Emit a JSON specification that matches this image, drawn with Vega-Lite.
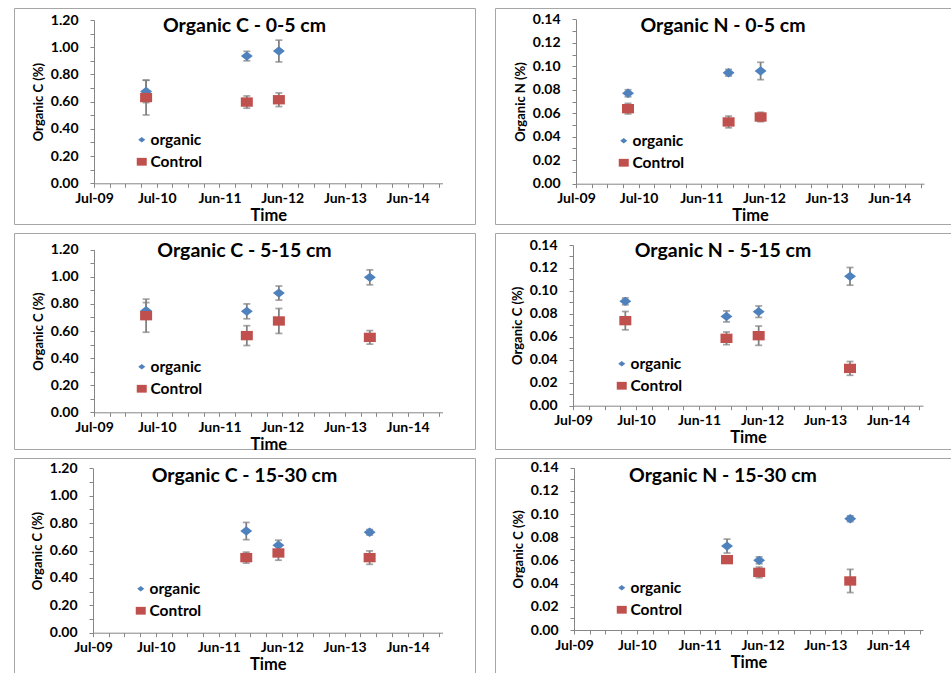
{
  "$schema": "https://vega.github.io/schema/vega-lite/v6.json",
  "padding": {"left": 13, "top": 7, "right": 0, "bottom": 0},
  "background": "#ffffff",
  "bounds": "flush",
  "columns": 2,
  "spacing": {"row": 9, "column": 20},
  "resolve": {"scale": {"x": "independent", "y": "independent", "color": "independent", "shape": "independent"}},
  "data": {
    "values": [
      {"panel": "C1", "series": "organic", "date": "2010-05-01", "value": 0.675, "err": 0.082},
      {"panel": "C1", "series": "organic", "date": "2011-11-30", "value": 0.935, "err": 0.035},
      {"panel": "C1", "series": "organic", "date": "2012-06-01", "value": 0.972, "err": 0.08},
      {"panel": "C1", "series": "Control", "date": "2010-05-01", "value": 0.63, "err": 0.128},
      {"panel": "C1", "series": "Control", "date": "2011-11-30", "value": 0.597, "err": 0.045},
      {"panel": "C1", "series": "Control", "date": "2012-06-01", "value": 0.614, "err": 0.05},

      {"panel": "N1", "series": "organic", "date": "2010-05-01", "value": 0.077, "err": 0.003},
      {"panel": "N1", "series": "organic", "date": "2011-11-30", "value": 0.0945, "err": 0.0028},
      {"panel": "N1", "series": "organic", "date": "2012-06-01", "value": 0.096, "err": 0.0074},
      {"panel": "N1", "series": "Control", "date": "2010-05-01", "value": 0.0639, "err": 0.0045},
      {"panel": "N1", "series": "Control", "date": "2011-11-30", "value": 0.0526, "err": 0.005},
      {"panel": "N1", "series": "Control", "date": "2012-06-01", "value": 0.0568, "err": 0.004},

      {"panel": "C2", "series": "organic", "date": "2010-05-01", "value": 0.75, "err": 0.06},
      {"panel": "C2", "series": "organic", "date": "2011-11-30", "value": 0.745, "err": 0.055},
      {"panel": "C2", "series": "organic", "date": "2012-06-01", "value": 0.88, "err": 0.052},
      {"panel": "C2", "series": "organic", "date": "2013-11-05", "value": 0.996, "err": 0.055},
      {"panel": "C2", "series": "Control", "date": "2010-05-01", "value": 0.713, "err": 0.122},
      {"panel": "C2", "series": "Control", "date": "2011-11-30", "value": 0.566, "err": 0.073},
      {"panel": "C2", "series": "Control", "date": "2012-06-01", "value": 0.674, "err": 0.092},
      {"panel": "C2", "series": "Control", "date": "2013-11-05", "value": 0.553, "err": 0.05},

      {"panel": "N2", "series": "organic", "date": "2010-05-01", "value": 0.0909, "err": 0.003},
      {"panel": "N2", "series": "organic", "date": "2011-11-30", "value": 0.0778, "err": 0.0048},
      {"panel": "N2", "series": "organic", "date": "2012-06-01", "value": 0.0819, "err": 0.005},
      {"panel": "N2", "series": "organic", "date": "2013-11-05", "value": 0.1127, "err": 0.0077},
      {"panel": "N2", "series": "Control", "date": "2010-05-01", "value": 0.0741, "err": 0.008},
      {"panel": "N2", "series": "Control", "date": "2011-11-30", "value": 0.0587, "err": 0.0055},
      {"panel": "N2", "series": "Control", "date": "2012-06-01", "value": 0.061, "err": 0.0084},
      {"panel": "N2", "series": "Control", "date": "2013-11-05", "value": 0.0325, "err": 0.006},

      {"panel": "C3", "series": "organic", "date": "2011-11-30", "value": 0.742, "err": 0.063},
      {"panel": "C3", "series": "organic", "date": "2012-06-01", "value": 0.638, "err": 0.037},
      {"panel": "C3", "series": "organic", "date": "2013-11-05", "value": 0.733, "err": 0.02},
      {"panel": "C3", "series": "Control", "date": "2011-11-30", "value": 0.548, "err": 0.04},
      {"panel": "C3", "series": "Control", "date": "2012-06-01", "value": 0.582, "err": 0.053},
      {"panel": "C3", "series": "Control", "date": "2013-11-05", "value": 0.548, "err": 0.049},

      {"panel": "N3", "series": "organic", "date": "2011-11-30", "value": 0.0724, "err": 0.006},
      {"panel": "N3", "series": "organic", "date": "2012-06-01", "value": 0.0601, "err": 0.003},
      {"panel": "N3", "series": "organic", "date": "2013-11-05", "value": 0.096, "err": 0.0025},
      {"panel": "N3", "series": "Control", "date": "2011-11-30", "value": 0.0607, "err": 0.002},
      {"panel": "N3", "series": "Control", "date": "2012-06-01", "value": 0.0497, "err": 0.0046},
      {"panel": "N3", "series": "Control", "date": "2013-11-05", "value": 0.0423, "err": 0.01}
    ]
  },
  "concat": [
    {
      "width": 461, "height": 216,
      "title": {"text": "Organic C - 0-5 cm"},
      "transform": [{"filter": "datum.panel == 'C1'"}],
      "encoding": {
        "x": {"field": "date", "type": "temporal", "title": "Time",
          "scale": {"type": "utc", "domain": [1246838400000, 1419638400000], "range": [80, 428.5]},
          "axis": {"offset": -40.7, "values": [1246838400000, 1254614400000, 1262390400000, 1270166400000, 1277942400000, 1285718400000, 1293494400000, 1301270400000, 1309046400000, 1316822400000, 1324598400000, 1332374400000, 1340150400000, 1347926400000, 1355702400000, 1363478400000, 1371254400000, 1379030400000, 1386806400000, 1394582400000, 1402358400000, 1410134400000, 1417910400000],
            "labelExpr": "(datum.value - 1246838400000) % 31104000000 == 0 ? utcFormat(datum.value, '%b-%y') : ''"}},
        "y": {"field": "value", "type": "quantitative", "title": "Organic C (%)",
          "scale": {"domain": [0, 1.2], "nice": false, "range": [175.3, 12]},
          "axis": {"offset": -80, "values": [0, 0.1, 0.2, 0.3, 0.4, 0.5, 0.6, 0.7, 0.8, 0.9, 1.0, 1.1, 1.2],
            "labelExpr": "round(datum.value * 10) % 2 == 0 ? format(datum.value, '.2f') : ''"}}
      },
      "layer": [
        {"mark": {"type": "errorbar", "ticks": true, "size": 7, "thickness": 1.75, "color": "#7f7f7f"}, "encoding": {"yError": {"field": "err"}}},
        {"transform": [{"filter": "datum.series == 'organic'"}], "mark": {"type": "point", "filled": true, "opacity": 1, "size": 290, "strokeWidth": 0},
          "encoding": {
            "color": {"field": "series", "type": "nominal", "scale": {"domain": ["organic", "Control"], "range": ["#4F81BD", "#C0504D"]}, "legend": {"orient": "none", "legendX": 120, "legendY": 124, "title": null}},
            "shape": {"field": "series", "type": "nominal", "scale": {"domain": ["organic", "Control"], "range": ["M0,-0.55L0.7,0L0,0.55L-0.7,0Z", "M-1,-0.78H1V0.78H-1Z"]}, "legend": {"orient": "none", "legendX": 120, "legendY": 124, "title": null}}}},
        {"transform": [{"filter": "datum.series == 'Control'"}], "mark": {"type": "point", "filled": true, "opacity": 1, "size": 144, "strokeWidth": 0},
          "encoding": {
            "color": {"field": "series", "type": "nominal"},
            "shape": {"field": "series", "type": "nominal"}}}
      ]
    },
    {
      "width": 456, "height": 216,
      "title": {"text": "Organic N - 0-5 cm"},
      "transform": [{"filter": "datum.panel == 'N1'"}],
      "encoding": {
        "x": {"field": "date", "type": "temporal", "title": "Time",
          "scale": {"type": "utc", "domain": [1246838400000, 1419638400000], "range": [81, 429]},
          "axis": {"offset": -40.3, "values": [1246838400000, 1254614400000, 1262390400000, 1270166400000, 1277942400000, 1285718400000, 1293494400000, 1301270400000, 1309046400000, 1316822400000, 1324598400000, 1332374400000, 1340150400000, 1347926400000, 1355702400000, 1363478400000, 1371254400000, 1379030400000, 1386806400000, 1394582400000, 1402358400000, 1410134400000, 1417910400000],
            "labelExpr": "(datum.value - 1246838400000) % 31104000000 == 0 ? utcFormat(datum.value, '%b-%y') : ''"}},
        "y": {"field": "value", "type": "quantitative", "title": "Organic N (%)",
          "scale": {"domain": [0, 0.14], "nice": false, "range": [175.7, 11.3]},
          "axis": {"offset": -81, "values": [0, 0.01, 0.02, 0.03, 0.04, 0.05, 0.06, 0.07, 0.08, 0.09, 0.1, 0.11, 0.12, 0.13, 0.14],
            "labelExpr": "round(datum.value * 100) % 2 == 0 ? format(datum.value, '.2f') : ''"}}
      },
      "layer": [
        {"mark": {"type": "errorbar", "ticks": true, "size": 7, "thickness": 1.75, "color": "#7f7f7f"}, "encoding": {"yError": {"field": "err"}}},
        {"transform": [{"filter": "datum.series == 'organic'"}], "mark": {"type": "point", "filled": true, "opacity": 1, "size": 290, "strokeWidth": 0},
          "encoding": {
            "color": {"field": "series", "type": "nominal", "scale": {"domain": ["organic", "Control"], "range": ["#4F81BD", "#C0504D"]}, "legend": {"orient": "none", "legendX": 121, "legendY": 125, "title": null}},
            "shape": {"field": "series", "type": "nominal", "scale": {"domain": ["organic", "Control"], "range": ["M0,-0.55L0.7,0L0,0.55L-0.7,0Z", "M-1,-0.78H1V0.78H-1Z"]}, "legend": {"orient": "none", "legendX": 121, "legendY": 125, "title": null}}}},
        {"transform": [{"filter": "datum.series == 'Control'"}], "mark": {"type": "point", "filled": true, "opacity": 1, "size": 144, "strokeWidth": 0},
          "encoding": {
            "color": {"field": "series", "type": "nominal"},
            "shape": {"field": "series", "type": "nominal"}}}
      ]
    },
    {
      "width": 461, "height": 216,
      "title": {"text": "Organic C - 5-15 cm"},
      "transform": [{"filter": "datum.panel == 'C2'"}],
      "encoding": {
        "x": {"field": "date", "type": "temporal", "title": "Time",
          "scale": {"type": "utc", "domain": [1246838400000, 1419638400000], "range": [80, 428.5]},
          "axis": {"offset": -36.7, "values": [1246838400000, 1254614400000, 1262390400000, 1270166400000, 1277942400000, 1285718400000, 1293494400000, 1301270400000, 1309046400000, 1316822400000, 1324598400000, 1332374400000, 1340150400000, 1347926400000, 1355702400000, 1363478400000, 1371254400000, 1379030400000, 1386806400000, 1394582400000, 1402358400000, 1410134400000, 1417910400000],
            "labelExpr": "(datum.value - 1246838400000) % 31104000000 == 0 ? utcFormat(datum.value, '%b-%y') : ''"}},
        "y": {"field": "value", "type": "quantitative", "title": "Organic C (%)",
          "scale": {"domain": [0, 1.2], "nice": false, "range": [179.3, 16.7]},
          "axis": {"offset": -80, "values": [0, 0.1, 0.2, 0.3, 0.4, 0.5, 0.6, 0.7, 0.8, 0.9, 1.0, 1.1, 1.2],
            "labelExpr": "round(datum.value * 10) % 2 == 0 ? format(datum.value, '.2f') : ''"}}
      },
      "layer": [
        {"mark": {"type": "errorbar", "ticks": true, "size": 7, "thickness": 1.75, "color": "#7f7f7f"}, "encoding": {"yError": {"field": "err"}}},
        {"transform": [{"filter": "datum.series == 'organic'"}], "mark": {"type": "point", "filled": true, "opacity": 1, "size": 290, "strokeWidth": 0},
          "encoding": {
            "color": {"field": "series", "type": "nominal", "scale": {"domain": ["organic", "Control"], "range": ["#4F81BD", "#C0504D"]}, "legend": {"orient": "none", "legendX": 120, "legendY": 126, "title": null}},
            "shape": {"field": "series", "type": "nominal", "scale": {"domain": ["organic", "Control"], "range": ["M0,-0.55L0.7,0L0,0.55L-0.7,0Z", "M-1,-0.78H1V0.78H-1Z"]}, "legend": {"orient": "none", "legendX": 120, "legendY": 126, "title": null}}}},
        {"transform": [{"filter": "datum.series == 'Control'"}], "mark": {"type": "point", "filled": true, "opacity": 1, "size": 144, "strokeWidth": 0},
          "encoding": {
            "color": {"field": "series", "type": "nominal"},
            "shape": {"field": "series", "type": "nominal"}}}
      ]
    },
    {
      "width": 456, "height": 216,
      "title": {"text": "Organic N - 5-15 cm"},
      "transform": [{"filter": "datum.panel == 'N2'"}],
      "encoding": {
        "x": {"field": "date", "type": "temporal", "title": "Time",
          "scale": {"type": "utc", "domain": [1246838400000, 1419638400000], "range": [78, 428]},
          "axis": {"offset": -43.3, "values": [1246838400000, 1254614400000, 1262390400000, 1270166400000, 1277942400000, 1285718400000, 1293494400000, 1301270400000, 1309046400000, 1316822400000, 1324598400000, 1332374400000, 1340150400000, 1347926400000, 1355702400000, 1363478400000, 1371254400000, 1379030400000, 1386806400000, 1394582400000, 1402358400000, 1410134400000, 1417910400000],
            "labelExpr": "(datum.value - 1246838400000) % 31104000000 == 0 ? utcFormat(datum.value, '%b-%y') : ''"}},
        "y": {"field": "value", "type": "quantitative", "title": "Organic C (%)",
          "scale": {"domain": [0, 0.14], "nice": false, "range": [172.7, 12]},
          "axis": {"offset": -78, "values": [0, 0.01, 0.02, 0.03, 0.04, 0.05, 0.06, 0.07, 0.08, 0.09, 0.1, 0.11, 0.12, 0.13, 0.14],
            "labelExpr": "round(datum.value * 100) % 2 == 0 ? format(datum.value, '.2f') : ''"}}
      },
      "layer": [
        {"mark": {"type": "errorbar", "ticks": true, "size": 7, "thickness": 1.75, "color": "#7f7f7f"}, "encoding": {"yError": {"field": "err"}}},
        {"transform": [{"filter": "datum.series == 'organic'"}], "mark": {"type": "point", "filled": true, "opacity": 1, "size": 290, "strokeWidth": 0},
          "encoding": {
            "color": {"field": "series", "type": "nominal", "scale": {"domain": ["organic", "Control"], "range": ["#4F81BD", "#C0504D"]}, "legend": {"orient": "none", "legendX": 119, "legendY": 123, "title": null}},
            "shape": {"field": "series", "type": "nominal", "scale": {"domain": ["organic", "Control"], "range": ["M0,-0.55L0.7,0L0,0.55L-0.7,0Z", "M-1,-0.78H1V0.78H-1Z"]}, "legend": {"orient": "none", "legendX": 119, "legendY": 123, "title": null}}}},
        {"transform": [{"filter": "datum.series == 'Control'"}], "mark": {"type": "point", "filled": true, "opacity": 1, "size": 144, "strokeWidth": 0},
          "encoding": {
            "color": {"field": "series", "type": "nominal"},
            "shape": {"field": "series", "type": "nominal"}}}
      ]
    },
    {
      "width": 461, "height": 216,
      "title": {"text": "Organic C - 15-30 cm"},
      "transform": [{"filter": "datum.panel == 'C3'"}],
      "encoding": {
        "x": {"field": "date", "type": "temporal", "title": "Time",
          "scale": {"type": "utc", "domain": [1246838400000, 1419638400000], "range": [79, 428.5]},
          "axis": {"offset": -41.3, "values": [1246838400000, 1254614400000, 1262390400000, 1270166400000, 1277942400000, 1285718400000, 1293494400000, 1301270400000, 1309046400000, 1316822400000, 1324598400000, 1332374400000, 1340150400000, 1347926400000, 1355702400000, 1363478400000, 1371254400000, 1379030400000, 1386806400000, 1394582400000, 1402358400000, 1410134400000, 1417910400000],
            "labelExpr": "(datum.value - 1246838400000) % 31104000000 == 0 ? utcFormat(datum.value, '%b-%y') : ''"}},
        "y": {"field": "value", "type": "quantitative", "title": "Organic C (%)",
          "scale": {"domain": [0, 1.2], "nice": false, "range": [174.7, 10.3]},
          "axis": {"offset": -79, "values": [0, 0.1, 0.2, 0.3, 0.4, 0.5, 0.6, 0.7, 0.8, 0.9, 1.0, 1.1, 1.2],
            "labelExpr": "round(datum.value * 10) % 2 == 0 ? format(datum.value, '.2f') : ''"}}
      },
      "layer": [
        {"mark": {"type": "errorbar", "ticks": true, "size": 7, "thickness": 1.75, "color": "#7f7f7f"}, "encoding": {"yError": {"field": "err"}}},
        {"transform": [{"filter": "datum.series == 'organic'"}], "mark": {"type": "point", "filled": true, "opacity": 1, "size": 290, "strokeWidth": 0},
          "encoding": {
            "color": {"field": "series", "type": "nominal", "scale": {"domain": ["organic", "Control"], "range": ["#4F81BD", "#C0504D"]}, "legend": {"orient": "none", "legendX": 119, "legendY": 123, "title": null}},
            "shape": {"field": "series", "type": "nominal", "scale": {"domain": ["organic", "Control"], "range": ["M0,-0.55L0.7,0L0,0.55L-0.7,0Z", "M-1,-0.78H1V0.78H-1Z"]}, "legend": {"orient": "none", "legendX": 119, "legendY": 123, "title": null}}}},
        {"transform": [{"filter": "datum.series == 'Control'"}], "mark": {"type": "point", "filled": true, "opacity": 1, "size": 144, "strokeWidth": 0},
          "encoding": {
            "color": {"field": "series", "type": "nominal"},
            "shape": {"field": "series", "type": "nominal"}}}
      ]
    },
    {
      "width": 456, "height": 216,
      "title": {"text": "Organic N - 15-30 cm"},
      "transform": [{"filter": "datum.panel == 'N3'"}],
      "encoding": {
        "x": {"field": "date", "type": "temporal", "title": "Time",
          "scale": {"type": "utc", "domain": [1246838400000, 1419638400000], "range": [79, 428]},
          "axis": {"offset": -44, "values": [1246838400000, 1254614400000, 1262390400000, 1270166400000, 1277942400000, 1285718400000, 1293494400000, 1301270400000, 1309046400000, 1316822400000, 1324598400000, 1332374400000, 1340150400000, 1347926400000, 1355702400000, 1363478400000, 1371254400000, 1379030400000, 1386806400000, 1394582400000, 1402358400000, 1410134400000, 1417910400000],
            "labelExpr": "(datum.value - 1246838400000) % 31104000000 == 0 ? utcFormat(datum.value, '%b-%y') : ''"}},
        "y": {"field": "value", "type": "quantitative", "title": "Organic C (%)",
          "scale": {"domain": [0, 0.14], "nice": false, "range": [172, 9.7]},
          "axis": {"offset": -79, "values": [0, 0.01, 0.02, 0.03, 0.04, 0.05, 0.06, 0.07, 0.08, 0.09, 0.1, 0.11, 0.12, 0.13, 0.14],
            "labelExpr": "round(datum.value * 100) % 2 == 0 ? format(datum.value, '.2f') : ''"}}
      },
      "layer": [
        {"mark": {"type": "errorbar", "ticks": true, "size": 7, "thickness": 1.75, "color": "#7f7f7f"}, "encoding": {"yError": {"field": "err"}}},
        {"transform": [{"filter": "datum.series == 'organic'"}], "mark": {"type": "point", "filled": true, "opacity": 1, "size": 290, "strokeWidth": 0},
          "encoding": {
            "color": {"field": "series", "type": "nominal", "scale": {"domain": ["organic", "Control"], "range": ["#4F81BD", "#C0504D"]}, "legend": {"orient": "none", "legendX": 119, "legendY": 122, "title": null}},
            "shape": {"field": "series", "type": "nominal", "scale": {"domain": ["organic", "Control"], "range": ["M0,-0.55L0.7,0L0,0.55L-0.7,0Z", "M-1,-0.78H1V0.78H-1Z"]}, "legend": {"orient": "none", "legendX": 119, "legendY": 122, "title": null}}}},
        {"transform": [{"filter": "datum.series == 'Control'"}], "mark": {"type": "point", "filled": true, "opacity": 1, "size": 144, "strokeWidth": 0},
          "encoding": {
            "color": {"field": "series", "type": "nominal"},
            "shape": {"field": "series", "type": "nominal"}}}
      ]
    }
  ],
  "config": {
    "font": "Lato",
    "view": {"stroke": "#a6a6a6", "strokeWidth": 1},
    "title": {"font": "Lato", "fontSize": 19.5, "fontWeight": "bold", "color": "#000000", "anchor": "middle", "baseline": "alphabetic", "offset": -28},
    "axis": {
      "grid": false,
      "domainColor": "#868686", "domainWidth": 1,
      "tickColor": "#868686", "tickSize": 4, "tickWidth": 1,
      "labelFont": "Lato", "labelFontWeight": "bold", "labelFontSize": 14, "labelColor": "#000000",
      "labelOverlap": false, "labelFlush": false, "labelBound": false,
      "titleFont": "Lato", "titleFontWeight": "bold", "titleColor": "#000000"
    },
    "axisX": {"labelPadding": 4, "titleFontSize": 16.5, "titlePadding": 2},
    "axisY": {"labelPadding": 12, "titleFontSize": 13, "titlePadding": 5},
    "legend": {
      "labelFont": "Lato", "labelFontSize": 15.5, "labelFontWeight": "bold", "labelColor": "#000000",
      "symbolSize": 100, "symbolStrokeWidth": 0, "rowPadding": 5, "labelOffset": 1, "padding": 0
    }
  }
}
